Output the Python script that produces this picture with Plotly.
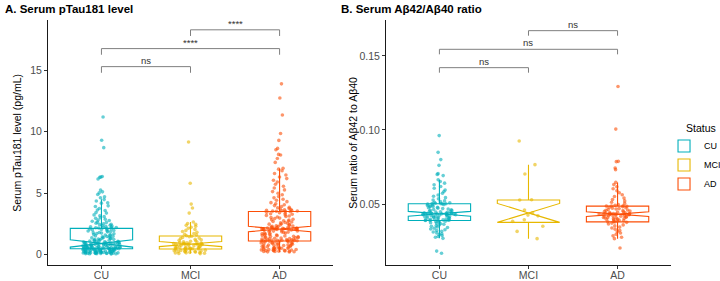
import plotly.graph_objects as go

# ---------------- data ----------------
groups = ["CU", "MCI", "AD"]
colors = {"CU": "#00AFBB", "MCI": "#E7B800", "AD": "#FC4E07"}

# Panel A: serum pTau181 (pg/mL)
ptau_CU = [11.2, 9.3, 8.7, 6.35, 6.3, 6.28, 6.15, 5.25, 5.1, 5.02, 4.88, 4.7, 4.62, 4.47, 4.35, 4.21,
           4.18, 3.96, 3.9, 3.74, 3.62, 3.58, 3.41, 3.37, 3.22, 3.15, 3.08, 2.99, 2.94, 2.87, 2.8, 2.77,
           2.7, 2.63, 2.61, 2.55, 2.49, 2.46, 2.43, 2.38, 2.36, 2.31, 2.29, 2.26, 2.22, 2.2, 2.19, 2.17,
           2.15, 2.13,
           2.1, 2.07, 2.04, 2.03, 1.99, 1.96, 1.92, 1.91, 1.86, 1.84, 1.79, 1.77, 1.74, 1.7, 1.68, 1.63,
           1.6, 1.58, 1.55, 1.51, 1.49, 1.46, 1.44, 1.4, 1.38, 1.35, 1.33, 1.3, 1.28, 1.26, 1.23, 1.21,
           1.19, 1.17, 1.15, 1.13, 1.11, 1.09, 1.07, 1.06, 1.04, 1.02, 1.01, 0.99, 0.97, 0.96, 0.94, 0.93,
           0.92, 0.91,
           0.89, 0.88, 0.88, 0.86, 0.85, 0.83, 0.83, 0.81, 0.8, 0.79, 0.77, 0.77, 0.75, 0.74, 0.72, 0.71,
           0.7, 0.69, 0.67, 0.66, 0.65, 0.64, 0.63, 0.62, 0.61, 0.6, 0.59, 0.58, 0.57, 0.57, 0.56, 0.55,
           0.54, 0.53, 0.53, 0.52, 0.51, 0.5, 0.5, 0.49, 0.49, 0.48, 0.48, 0.47, 0.47, 0.46, 0.46, 0.45,
           0.45, 0.44,
           0.44, 0.43, 0.42, 0.41, 0.4, 0.39, 0.38, 0.37, 0.36, 0.35, 0.34, 0.33, 0.32, 0.31, 0.3, 0.29,
           0.28, 0.27, 0.26, 0.25, 0.24, 0.23, 0.22, 0.21, 0.2, 0.2, 0.19, 0.18, 0.17, 0.17, 0.16, 0.15,
           0.15, 0.14, 0.13, 0.13, 0.12, 0.11, 0.11, 0.1, 0.1, 0.09, 0.09, 0.08, 0.08, 0.07, 0.07, 0.06,
           0.06, 0.05]
ptau_MCI = [9.16, 5.8, 4.1, 3.78, 3.37, 2.64, 2.52, 2.45, 2.37, 2.3, 2.21, 2.13, 2.04, 1.96, 1.87,
            1.8, 1.71, 1.64, 1.58, 1.52,
            1.48, 1.44, 1.39, 1.33, 1.3, 1.24, 1.2, 1.16, 1.11, 1.07, 1.04, 1.01, 0.98, 0.95, 0.93,
            0.91, 0.89, 0.87, 0.86, 0.85,
            0.84, 0.82, 0.79, 0.77, 0.74, 0.72, 0.7, 0.67, 0.65, 0.63, 0.61, 0.59, 0.57, 0.55, 0.53,
            0.51, 0.5, 0.48, 0.46, 0.45,
            0.43, 0.41, 0.39, 0.37, 0.35, 0.33, 0.31, 0.29, 0.27, 0.25, 0.23, 0.21, 0.19, 0.17, 0.15,
            0.13, 0.12, 0.1, 0.08, 0.07]
ptau_AD = [13.9, 12.75, 11.36, 9.85, 9.29, 8.64, 8.53, 8.15, 8.1, 7.82, 7.5, 7.02, 6.95, 6.82,
           6.6, 6.47, 6.31, 6.18, 6.04, 5.9, 5.72, 5.55, 5.41, 5.26, 5.12, 4.98, 4.86, 4.72, 4.61,
           4.5, 4.41, 4.3, 4.22, 4.13, 4.05, 3.98, 3.91, 3.85, 3.8, 3.74, 3.7, 3.66, 3.63, 3.6,
           3.58, 3.56, 3.54, 3.53, 3.52, 3.51,
           3.48, 3.44, 3.4, 3.35, 3.31, 3.27, 3.22, 3.18, 3.13, 3.09, 3.05, 3.0, 2.96, 2.92, 2.87,
           2.83, 2.8, 2.75, 2.72, 2.68, 2.64, 2.6, 2.57, 2.53, 2.5, 2.47, 2.43, 2.4, 2.37, 2.34,
           2.32, 2.29, 2.27, 2.24, 2.22, 2.2, 2.18, 2.16, 2.15, 2.13, 2.12, 2.11, 2.1, 2.09, 2.08,
           2.08, 2.07, 2.07, 2.07, 2.07,
           2.06, 2.04, 2.02, 2.0, 1.97, 1.95, 1.92, 1.9, 1.87, 1.84, 1.82, 1.79, 1.76, 1.74, 1.71,
           1.68, 1.66, 1.63, 1.6, 1.58, 1.55, 1.53, 1.5, 1.48, 1.46, 1.43, 1.41, 1.39, 1.37, 1.35,
           1.33, 1.31, 1.29, 1.27, 1.25, 1.23, 1.22, 1.2, 1.18, 1.17, 1.16, 1.15, 1.14, 1.13, 1.12,
           1.11, 1.11, 1.1, 1.1, 1.09,
           1.07, 1.05, 1.03, 1.01, 0.98, 0.96, 0.94, 0.92, 0.9, 0.88, 0.86, 0.83, 0.81, 0.79, 0.77,
           0.75, 0.73, 0.71, 0.69, 0.67, 0.65, 0.63, 0.61, 0.59, 0.57, 0.55, 0.53, 0.51, 0.5, 0.48,
           0.46, 0.45, 0.43, 0.42, 0.4, 0.39, 0.37, 0.36, 0.34, 0.33, 0.31, 0.3, 0.29, 0.27, 0.26,
           0.25, 0.24, 0.22, 0.21, 0.2]

# Panel B: serum Abeta42/Abeta40 ratio
ratio_CU = [0.0962, 0.0849, 0.0800, 0.0761, 0.0705, 0.0700, 0.0692, 0.0664, 0.0652, 0.0641,
            0.0630, 0.0618, 0.0606, 0.0595, 0.0584, 0.0573, 0.0561, 0.0552, 0.0543, 0.0535,
            0.0527, 0.0521, 0.0516, 0.0512, 0.0508, 0.0505, 0.0503, 0.0502, 0.0502, 0.0501,
            0.0499, 0.0496, 0.0493, 0.0490, 0.0487, 0.0484, 0.0481, 0.0478, 0.0475, 0.0472,
            0.0469, 0.0466, 0.0463, 0.0461, 0.0458, 0.0455, 0.0452, 0.0450, 0.0448, 0.0446,
            0.0444, 0.0442, 0.0440, 0.0439, 0.0438, 0.0437, 0.0436, 0.0435, 0.0434, 0.0434,
            0.0433, 0.0432, 0.0431, 0.0430, 0.0428, 0.0427, 0.0425, 0.0424, 0.0422, 0.0421,
            0.0419, 0.0418, 0.0416, 0.0414, 0.0412, 0.0411, 0.0409, 0.0407, 0.0405, 0.0403,
            0.0401, 0.0399, 0.0397, 0.0395, 0.0393, 0.0392, 0.0391, 0.0390, 0.0389, 0.0389,
            0.0387, 0.0384, 0.0381, 0.0378, 0.0374, 0.0371, 0.0367, 0.0363, 0.0359, 0.0354,
            0.0350, 0.0345, 0.0341, 0.0336, 0.0331, 0.0326, 0.0321, 0.0316, 0.0311, 0.0305,
            0.0299, 0.0293, 0.0287, 0.0281, 0.0275, 0.0268, 0.0182, 0.0167]
ratio_MCI = [0.0926, 0.0766, 0.0703, 0.0529, 0.0527, 0.0460, 0.0440, 0.0425, 0.0420,
             0.0394, 0.0383, 0.0350, 0.0315, 0.0266]
ratio_AD = [0.1294, 0.1006, 0.0788, 0.0786, 0.0743, 0.0732, 0.0646, 0.0631, 0.0617, 0.0603,
            0.0590, 0.0576, 0.0563, 0.0551, 0.0540, 0.0530, 0.0521, 0.0512, 0.0504, 0.0497,
            0.0491, 0.0488, 0.0487, 0.0486, 0.0484, 0.0481, 0.0478, 0.0475, 0.0472, 0.0469,
            0.0466, 0.0463, 0.0460, 0.0457, 0.0455, 0.0452, 0.0450, 0.0447, 0.0445, 0.0442,
            0.0440, 0.0438, 0.0436, 0.0435, 0.0434, 0.0433, 0.0432, 0.0432, 0.0431, 0.0429,
            0.0427, 0.0425, 0.0423, 0.0421, 0.0419, 0.0417, 0.0415, 0.0413, 0.0411, 0.0409,
            0.0407, 0.0405, 0.0403, 0.0401, 0.0399, 0.0397, 0.0394, 0.0391, 0.0388, 0.0385,
            0.0382, 0.0380, 0.0379, 0.0376, 0.0371, 0.0365, 0.0359, 0.0352, 0.0345, 0.0338,
            0.0330, 0.0322, 0.0313, 0.0304, 0.0295, 0.0285, 0.0275, 0.0266, 0.0203]

# box statistics: q1, median, q3, lower whisker, upper whisker, notch half-span
stats_A = {"CU": [0.46, 0.90, 2.12, 0.05, 4.5, 0.30],
           "MCI": [0.44, 0.85, 1.50, 0.07, 2.64, 0.21],
           "AD": [1.09, 2.07, 3.50, 0.20, 7.0, 0.22]}
stats_B = {"CU": [0.0389, 0.0434, 0.0502, 0.0268, 0.0664, 0.0016],
           "MCI": [0.0376, 0.0440, 0.0527, 0.0266, 0.0766, 0.0064],
           "AD": [0.0379, 0.0432, 0.0486, 0.0266, 0.0646, 0.0016]}

points_A = {"CU": ptau_CU, "MCI": ptau_MCI, "AD": ptau_AD}
points_B = {"CU": ratio_CU, "MCI": ratio_MCI, "AD": ratio_AD}

# significance brackets: (group index 1, group index 2, height, label)
pairs = [(0, 1), (0, 2), (1, 2)]
bracket_y_A = [15.3, 16.77, 18.3]
bracket_lab_A = ["ns", "****", "****"]
bracket_y_B = [0.1421, 0.1545, 0.1671]
bracket_lab_B = ["ns", "ns", "ns"]

# ---------------- figure ----------------
fig = go.Figure()
FONT = "Liberation Sans, Arial, sans-serif"

def add_panel(stats, points, xa, ya, showlegend):
    for g in groups:
        q1, med, q3, lo, hi, ns = stats[g]
        fig.add_trace(go.Box(
            x=[g], q1=[q1], median=[med], q3=[q3], lowerfence=[lo], upperfence=[hi],
            notchspan=[ns], notched=True, notchwidth=0.5, width=0.7, whiskerwidth=0,
            boxpoints=False, line=dict(color=colors[g], width=1.1),
            fillcolor="rgba(255,255,255,0)", name=g, legendgroup=g,
            showlegend=showlegend, xaxis=xa, yaxis=ya, hoverinfo="skip"))
    for g in groups:
        fig.add_trace(go.Box(
            x=[g] * len(points[g]), y=points[g], boxpoints="all", jitter=1, pointpos=0,
            width=0.42, line=dict(color="rgba(0,0,0,0)", width=0),
            fillcolor="rgba(0,0,0,0)",
            marker=dict(color=colors[g], size=3.6, opacity=0.6, line=dict(width=0)),
            name=g, legendgroup=g, showlegend=False, xaxis=xa, yaxis=ya, hoveron="points"))

add_panel(stats_A, points_A, "x", "y", True)
add_panel(stats_B, points_B, "x2", "y2", False)

shapes = []
annotations = []

def add_brackets(ys, labels, tip, xref, yref):
    for (i, j), yv, lab in zip(pairs, ys, labels):
        shapes.append(dict(type="path", xref=xref, yref=yref,
                           path=f"M {i},{yv - tip} L {i},{yv} L {j},{yv} L {j},{yv - tip}",
                           line=dict(color="#7f7f7f", width=1)))
        annotations.append(dict(x=(i + j) / 2, y=yv, xref=xref, yref=yref, text=lab,
                                showarrow=False, yanchor="bottom", yshift=-1,
                                font=dict(family=FONT, size=9.5, color="#333333")))

add_brackets(bracket_y_A, bracket_lab_A, 0.5, "x", "y")
add_brackets(bracket_y_B, bracket_lab_B, 0.0034, "x2", "y2")

annotations.append(dict(x=-0.0722, y=1.076, xref="paper", yref="paper", xanchor="left",
                        yanchor="top", showarrow=False, text="<b>A. Serum pTau181 level</b>",
                        font=dict(family=FONT, size=11.5, color="black")))
annotations.append(dict(x=0.467, y=1.076, xref="paper", yref="paper", xanchor="left",
                        yanchor="top", showarrow=False, text="<b>B. Serum Aβ42/Aβ40 ratio</b>",
                        font=dict(family=FONT, size=11.5, color="black")))
# y-axis titles placed as rotated text in the left gutters
annotations.append(dict(x=-0.051, y=0.5, xref="paper", yref="paper", textangle=-90,
                        xanchor="center", yanchor="middle",
                        showarrow=False, text="Serum pTau181 level (pg/mL)",
                        font=dict(family=FONT, size=10.5, color="black")))
annotations.append(dict(x=0.4885, y=0.5, xref="paper", yref="paper", textangle=-90,
                        xanchor="center", yanchor="middle",
                        showarrow=False, text="Serum ratio of Aβ42 to Aβ40",
                        font=dict(family=FONT, size=10.5, color="black")))
# legend title
annotations.append(dict(x=1.0209, y=0.559, xref="paper", yref="paper", xanchor="left",
                        yanchor="middle", showarrow=False, text="Status",
                        font=dict(family=FONT, size=10.5, color="black")))

axis_common = dict(showline=True, linecolor="#1a1a1a", linewidth=1, ticks="outside",
                   ticklen=3, tickcolor="#333333", showgrid=False, zeroline=False,
                   automargin=False,
                   tickfont=dict(family=FONT, size=10.5, color="#4d4d4d"))

fig.update_layout(
    width=720, height=281, margin=dict(l=48, r=49, t=20, b=16, autoexpand=False),
    plot_bgcolor="white", paper_bgcolor="white", boxmode="overlay",
    font=dict(family=FONT),
    xaxis=dict(domain=[0, 0.4575], categoryorder="array", categoryarray=groups,
               range=[-0.6, 2.6], ticklabelstandoff=-3, **axis_common),
    xaxis2=dict(domain=[0.5425, 1], categoryorder="array", categoryarray=groups,
                range=[-0.6, 2.6], anchor="y2", ticklabelstandoff=-3, **axis_common),
    yaxis=dict(range=[-0.86, 19.1], tickvals=[0, 5, 10, 15], anchor="x", **axis_common),
    yaxis2=dict(range=[0.0088, 0.1743], tickvals=[0.05, 0.10, 0.15],
                ticktext=["0.05", "0.10", "0.15"], anchor="x2", **axis_common),
    legend=dict(x=0.9888, y=0.545, xanchor="left", yanchor="top",
                font=dict(family=FONT, size=9, color="black"), tracegroupgap=0,
                itemwidth=30, bgcolor="rgba(0,0,0,0)"),
    shapes=shapes, annotations=annotations,
)

fig.write_html("out.html", config={"displayModeBar": False},
               post_script="document.body.style.margin='0';document.body.style.padding='0';")
